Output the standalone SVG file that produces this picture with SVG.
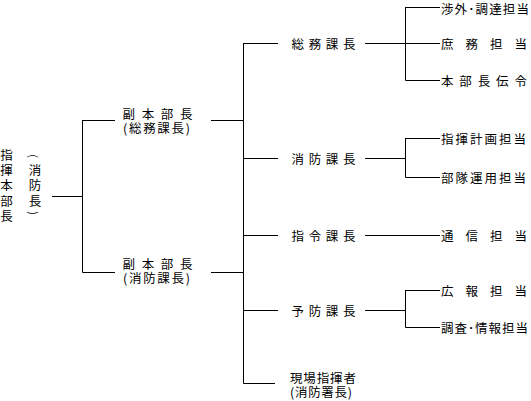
<svg xmlns="http://www.w3.org/2000/svg" width="531" height="401" viewBox="0 0 531 401">
<style>
text{font-family:"Noto Sans CJK JP","Noto Sans CJK SC",sans-serif;font-size:12.5px;fill:#000;dominant-baseline:central}
.v{text-anchor:middle}
.p{font-size:11px}
#connectors path{stroke:#000;stroke-width:1;fill:none}
</style>
<rect width="531" height="401" fill="#fff"/>
<g id="connectors">
<path d="M52,196.5H82.5M82.5,120V272.5M82.5,120.5H115M82.5,272.5H115M211,120.5H243.5M211,272.5H243.5M243.5,43V383.5"/>
<path d="M243.5,43.5H278M243.5,158.5H278M243.5,235.5H278M243.5,310.5H278M243.5,383.5H275"/>
<path d="M365,43.5H440M405.5,7V80.5M405.5,7.5H440M405.5,80.5H440"/>
<path d="M365,158.5H405.5M405.5,138V177.5M405.5,138.5H440M405.5,177.5H440"/>
<path d="M365,235.5H440"/>
<path d="M365,310.5H405.5M405.5,290V327.5M405.5,290.5H440M405.5,327.5H440"/>
</g>
<g id="n-honbucho">
<text class="v" x="6.5" y="154">指</text>
<text class="v" x="6.5" y="169">揮</text>
<text class="v" x="6.5" y="184">本</text>
<text class="v" x="6.5" y="200">部</text>
<text class="v" x="6.5" y="215">長</text>
<text class="v p" x="34" y="156" transform="rotate(90 34 156)">(</text>
<text class="v" x="35" y="169">消</text>
<text class="v" x="35" y="184">防</text>
<text class="v" x="35" y="200">長</text>
<text class="v p" x="34" y="213" transform="rotate(90 34 213)">)</text>
</g>
<g id="n-fuku1">
<text x="122.5" y="113" textLength="70" lengthAdjust="spacing">副本部長</text>
<text x="123" y="127" textLength="67" lengthAdjust="spacing">(総務課長)</text>
</g>
<g id="n-fuku2">
<text x="122.5" y="263" textLength="70" lengthAdjust="spacing">副本部長</text>
<text x="123" y="277" textLength="67" lengthAdjust="spacing">(消防課長)</text>
</g>
<g id="n-somu"><text x="291.5" y="43" textLength="64" lengthAdjust="spacing">総務課長</text></g>
<g id="n-shobo"><text x="291.5" y="158" textLength="64" lengthAdjust="spacing">消防課長</text></g>
<g id="n-shirei"><text x="291.5" y="235" textLength="64" lengthAdjust="spacing">指令課長</text></g>
<g id="n-yobo"><text x="291.5" y="310" textLength="64" lengthAdjust="spacing">予防課長</text></g>
<g id="n-genba">
<text x="290" y="377" textLength="66" lengthAdjust="spacing">現場指揮者</text>
<text x="290" y="391" textLength="62" lengthAdjust="spacing">(消防署長)</text>
</g>
<g id="n-shogai"><text x="441" y="8" textLength="88" lengthAdjust="spacing">渉外･調達担当</text></g>
<g id="n-shomu"><text x="441" y="43" textLength="86" lengthAdjust="spacing">庶務担当</text></g>
<g id="n-denrei"><text x="441" y="80" textLength="86" lengthAdjust="spacing">本部長伝令</text></g>
<g id="n-keikaku"><text x="441" y="138" textLength="85" lengthAdjust="spacing">指揮計画担当</text></g>
<g id="n-unyo"><text x="441" y="177" textLength="85" lengthAdjust="spacing">部隊運用担当</text></g>
<g id="n-tsushin"><text x="441" y="235" textLength="86" lengthAdjust="spacing">通信担当</text></g>
<g id="n-koho"><text x="441" y="290" textLength="86" lengthAdjust="spacing">広報担当</text></g>
<g id="n-chosa"><text x="441" y="327" textLength="87" lengthAdjust="spacing">調査･情報担当</text></g>
</svg>
